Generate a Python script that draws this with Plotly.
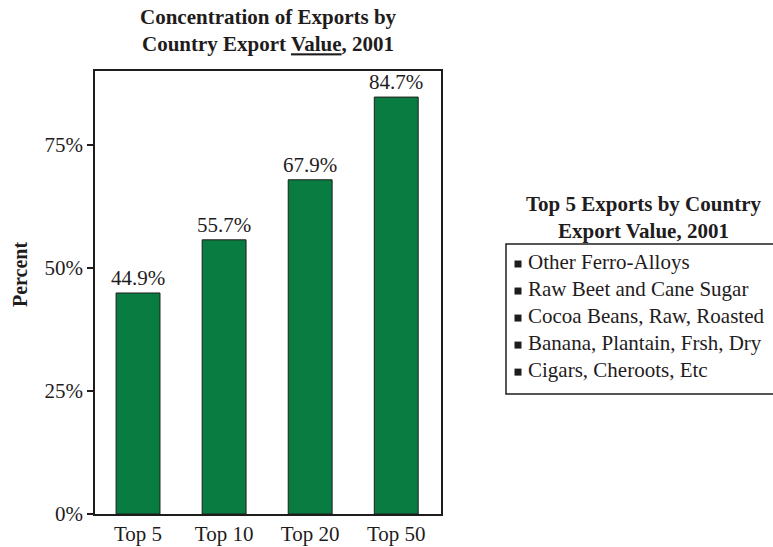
import plotly.graph_objects as go

categories = ["Top 5", "Top 10", "Top 20", "Top 50"]
shares = [44.9, 55.7, 67.9, 84.7]
y_tick_vals = [0, 25, 50, 75]
y_tick_text = ["0%", "25%", "50%", "75%"]
top_exports = [
    "Other Ferro-Alloys",
    "Raw Beet and Cane Sugar",
    "Cocoa Beans, Raw, Roasted",
    "Banana, Plantain, Frsh, Dry",
    "Cigars, Cheroots, Etc",
]

W, H = 773, 547
SERIF = "Liberation Serif"
INK = "#1f1c1d"
GREEN = "#087c41"

# plot-area geometry (pixels)
px_l, px_r, px_t, px_b = 95, 441, 71, 514
# legend box geometry (pixels)
lg_l, lg_t, lg_b = 506, 244, 394

fig = go.Figure()
fig.add_trace(go.Bar(
    x=categories, y=shares,
    marker=dict(color=GREEN, line=dict(color=INK, width=1)),
    width=0.51,
    text=[f"{v:.1f}%" for v in shares],
    textposition="outside",
    constraintext="none",
    textfont=dict(family=SERIF, size=21, color=INK),
    cliponaxis=False,
    showlegend=False,
    xaxis="x", yaxis="y",
))

# legend-like list: square bullets + labels
fig.add_trace(go.Scatter(
    x=[0] * len(top_exports),
    y=list(range(len(top_exports))),
    mode="markers",
    marker=dict(symbol="square", size=7, color=INK),
    showlegend=False, hoverinfo="skip", cliponaxis=False,
    xaxis="x2", yaxis="y2",
))
fig.add_trace(go.Scatter(
    x=[10] * len(top_exports),
    y=list(range(len(top_exports))),
    mode="text",
    text=top_exports,
    textposition="middle right",
    textfont=dict(family=SERIF, size=21, color=INK),
    showlegend=False, hoverinfo="skip", cliponaxis=False,
    xaxis="x2", yaxis="y2",
))

fig.update_layout(
    width=W, height=H,
    margin=dict(l=0, r=0, t=0, b=0, autoexpand=False),
    paper_bgcolor="white", plot_bgcolor="white",
    bargap=0.49,
    xaxis=dict(
        domain=[px_l / W, px_r / W],
        range=[-0.5, 3.52],
        showline=True, linecolor=INK, linewidth=1.5, mirror=True,
        showgrid=False, zeroline=False, ticks="",
        tickfont=dict(family=SERIF, size=21, color=INK),
        anchor="y",
    ),
    yaxis=dict(
        domain=[1 - px_b / H, 1 - px_t / H],
        range=[0, 90.0],
        tickvals=y_tick_vals, ticktext=y_tick_text,
        ticks="outside", ticklen=6, tickcolor=INK, tickwidth=1.5,
        showline=True, linecolor=INK, linewidth=1.5, mirror=True,
        showgrid=False, zeroline=False,
        tickfont=dict(family=SERIF, size=21, color=INK),
        anchor="x",
    ),
    xaxis2=dict(
        domain=[lg_l / W, 1], range=[-12, 255],
        visible=False, fixedrange=True, anchor="y2",
    ),
    yaxis2=dict(
        domain=[1 - lg_b / H, 1 - lg_t / H], range=[4.81, -0.74],
        visible=False, fixedrange=True, anchor="x2",
    ),
    shapes=[dict(
        type="rect", xref="paper", yref="paper",
        x0=lg_l / W, x1=1.05, y0=1 - lg_b / H, y1=1 - lg_t / H,
        line=dict(color=INK, width=1.5), fillcolor="rgba(0,0,0,0)",
    )],
    annotations=[
        dict(
            text="<b>Concentration of Exports by<br>Country Export <u>Value</u>, 2001</b>",
            xref="paper", yref="paper", x=(px_l + px_r) / 2 / W, y=1 - 30.5 / H,
            xanchor="center", yanchor="middle", showarrow=False,
            font=dict(family=SERIF, size=21, color=INK),
        ),
        dict(
            text="<b>Top 5 Exports by Country<br>Export Value, 2001</b>",
            xref="paper", yref="paper", x=643 / W, y=1 - 217 / H,
            xanchor="center", yanchor="middle", showarrow=False,
            font=dict(family=SERIF, size=21, color=INK),
        ),
        dict(
            text="<b>Percent</b>",
            xref="paper", yref="paper", x=20 / W, y=1 - 275 / H,
            xanchor="center", yanchor="middle", showarrow=False, textangle=-90,
            font=dict(family=SERIF, size=20, color=INK),
        ),
    ],
)

fig.write_html(
    "out.html",
    config={"displayModeBar": False},
    post_script="document.body.style.margin='0';",
)
